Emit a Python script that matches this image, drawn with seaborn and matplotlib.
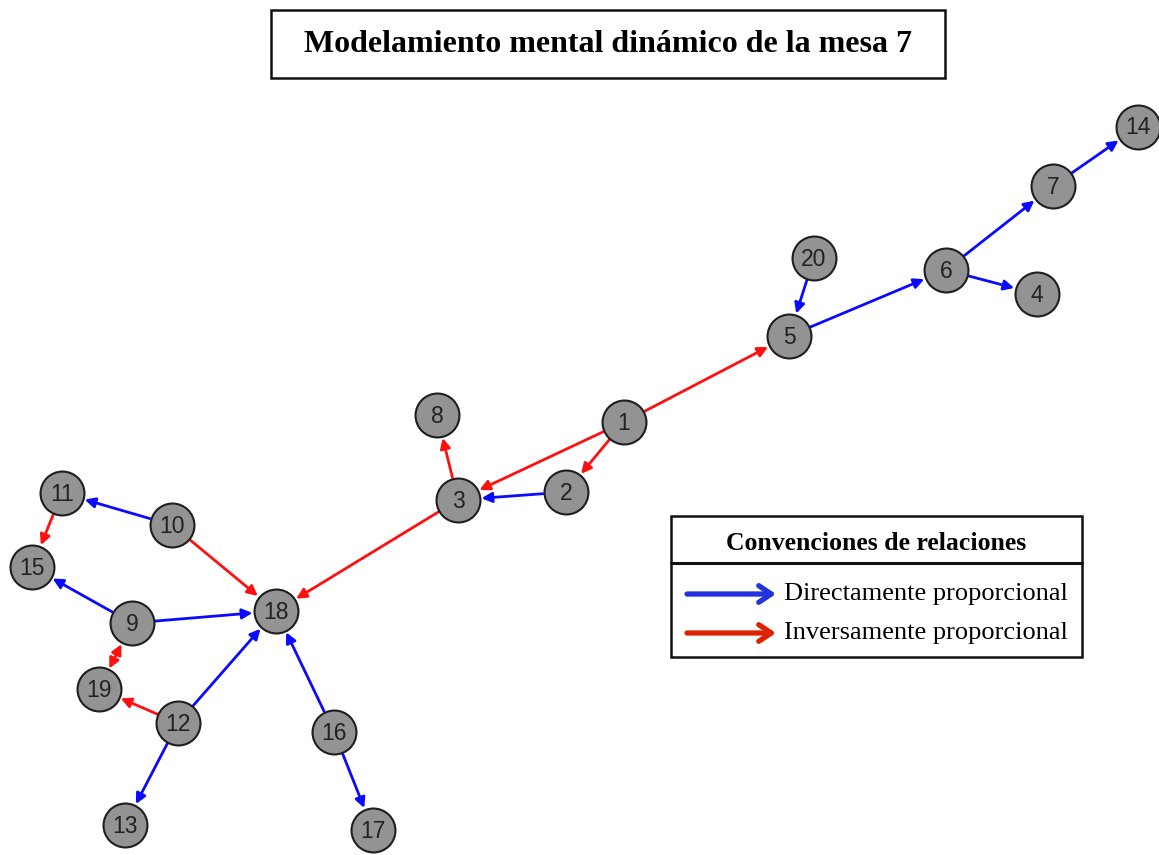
import matplotlib
matplotlib.use("Agg")
import matplotlib.pyplot as plt
from matplotlib.patches import Rectangle
import seaborn as sns

# node positions (pixel frame, y grows downward)
node_ids = ["1", "2", "3", "4", "5", "6", "7", "8", "9", "10",
            "11", "12", "13", "14", "15", "16", "17", "18", "19", "20"]
node_x = [624, 566, 458, 1037, 789, 946, 1053, 437, 132, 172,
          62, 178, 125, 1138, 32, 334, 373, 276, 99, 814]
node_y = [422, 492, 500, 294, 336, 270, 186, 415, 623, 525,
          493, 723, 825, 127, 567, 732, 830, 611, 689, 258]

# relations: source, target, kind (D = directamente, I = inversamente)
edge_src = ["1", "1", "1", "2", "3", "3", "20", "5", "6", "6", "7",
            "10", "10", "11", "9", "9", "19", "12", "12", "12", "16", "16"]
edge_dst = ["5", "3", "2", "3", "8", "18", "5", "6", "7", "4", "14",
            "11", "18", "15", "15", "18", "9", "19", "18", "13", "18", "17"]
edge_kind = ["I", "I", "I", "D", "I", "I", "D", "D", "D", "D", "D",
             "D", "I", "I", "D", "D", "II", "I", "D", "D", "D", "D"]

title = "Modelamiento mental dinámico de la mesa 7"
legend_title = "Convenciones de relaciones"
legend_labels = ["Directamente proporcional", "Inversamente proporcional"]

colors = {"D": "#0a0aff", "I": "#ff1010", "II": "#ff1010"}
legend_colors = ["#2233dd", "#dd2200"]

sns.set_style("white")
fig = plt.figure(figsize=(11.59, 8.55), dpi=100)
ax = fig.add_axes([0, 0, 1, 1])
ax.set_xlim(0, 1159)
ax.set_ylim(855, 0)
ax.axis("off")

pos = {n: (x, y) for n, x, y in zip(node_ids, node_x, node_y)}

# edges
for s, t, k in zip(edge_src, edge_dst, edge_kind):
    head = "head_length=0.6,head_width=0.3"
    style = "<|-|>," + head if k == "II" else "-|>," + head
    ax.annotate("", xy=pos[t], xytext=pos[s], xycoords="data",
                arrowprops=dict(arrowstyle=style, color=colors[k], lw=2.0,
                                shrinkA=16.5, shrinkB=17.0),
                zorder=2)

# nodes
sns.scatterplot(x=node_x, y=node_y, s=1000, color="#939393",
                edgecolor="#1e1e1e", linewidth=1.5, ax=ax, zorder=3, legend=False)
for n, x, y in zip(node_ids, node_x, node_y):
    ax.text(x, y + 1, n, ha="center", va="center", fontsize=16.5,
            family="Liberation Sans", color="#222222", zorder=4)

# title box
ax.add_patch(Rectangle((271, 10), 674, 68, fill=False, lw=1.8, ec="#111111", zorder=5))
ax.text(608, 44, title, ha="center", va="center", fontsize=23, fontweight="bold",
        family="Liberation Serif", color="black")

# legend box
ax.add_patch(Rectangle((671, 516), 411, 141, fill=False, lw=1.8, ec="#111111", zorder=5))
ax.plot([671, 1082], [563, 563], color="#111111", lw=2.2)
ax.text(876, 543, legend_title, ha="center", va="center", fontsize=18.5, fontweight="bold",
        family="Liberation Serif", color="black")
for i, (lab, c) in enumerate(zip(legend_labels, legend_colors)):
    yy = 594 + 39 * i
    ax.annotate("", xy=(776, yy), xytext=(687, yy), xycoords="data",
                arrowprops=dict(arrowstyle="->,head_length=0.9,head_width=0.6",
                                color=c, lw=3.8, shrinkA=0, shrinkB=0,
                                capstyle="round", joinstyle="round"))
    ax.text(784, yy, lab, ha="left", va="center", fontsize=19,
            family="Liberation Serif", color="black")

fig.savefig("out.png", dpi=100, facecolor="white")
